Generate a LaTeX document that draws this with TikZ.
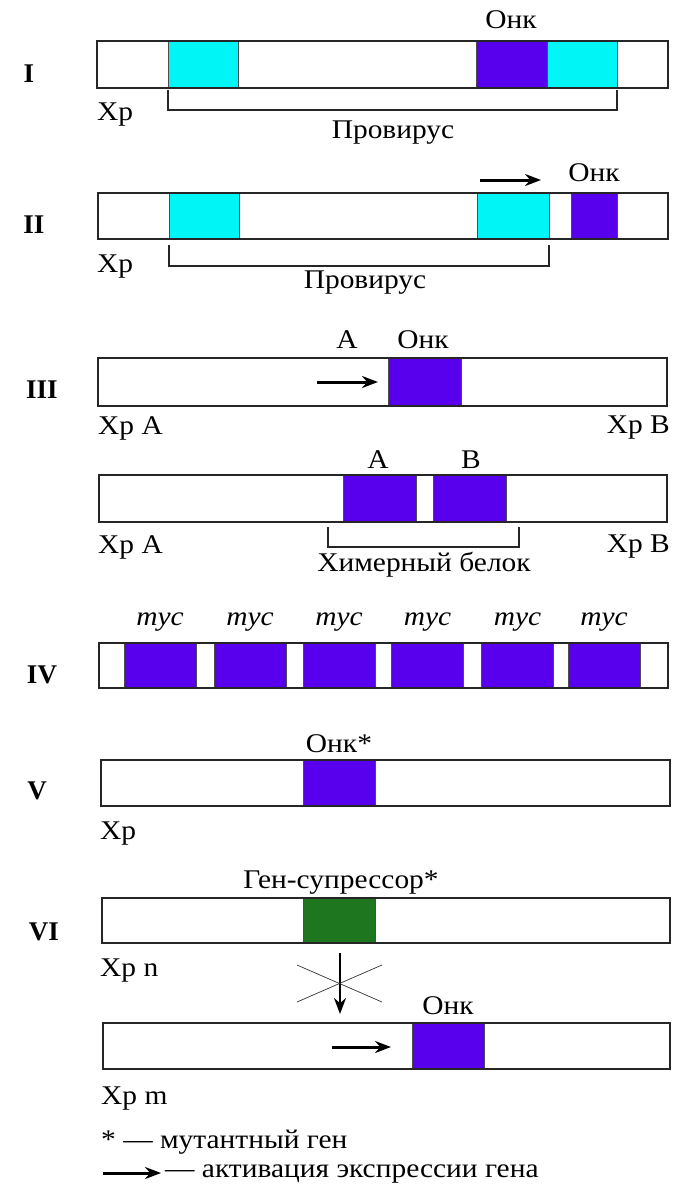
\documentclass[tikz,border=0pt]{standalone}
\usepackage{fontspec}
\setmainfont{Liberation Serif}
\newfontfamily\lblfont{Liberation Serif}[FakeStretch=1.09]
\usetikzlibrary{arrows.meta}
\definecolor{onk}{RGB}{88,0,238}
\definecolor{cyn}{RGB}{0,246,246}
\definecolor{grn}{RGB}{30,118,30}
\tikzset{
  bar/.style={draw=black!85, line width=1.4pt, rectangle, inner sep=0pt, outer sep=0pt},
  blk/.style={draw=black!70, line width=0.5pt, rectangle, inner sep=0pt, outer sep=0pt},
  lbl/.style={inner sep=0pt, font=\lblfont\fontsize{27}{30}\selectfont},
  num/.style={inner sep=0pt, font=\fontsize{27}{30}\selectfont\bfseries},
  act/.style={line width=3pt, -{Stealth[length=16pt,width=12pt]}},
  brk/.style={line width=1.4pt, draw=black!85},
  crs/.style={line width=0.7pt, draw=black!80}
}
\begin{document}
\begin{tikzpicture}[x=1pt,y=-1pt]
\useasboundingbox[fill=white] (0,0) rectangle (672,1186);

% ---------- I ----------
\node[bar, minimum width=571pt, minimum height=47pt] (b1) at (382.5,64.5) {};
\node[blk, fill=cyn, minimum width=70pt, minimum height=47pt] (c1a) at (203,64.5) {};
\node[blk, fill=onk, minimum width=71pt, minimum height=47pt] (o1) at (511.5,64.5) {};
\node[blk, fill=cyn, minimum width=70pt, minimum height=47pt] (c1b) at (582,64.5) {};
\node[bar, minimum width=571pt, minimum height=47pt] (b1top) at (382.5,64.5) {};
\node[num] (n1) at (29,74) {I};
\node[lbl] (t1) at (511,20) {Онк};
\node[lbl, anchor=west] (x1) at (97,115) {Хр};
\draw[brk] (c1a.south west |- 0,90) -- (c1a.south west |- 0,110) -- (c1b.south east |- 0,110) -- (c1b.south east |- 0,90);
\node[lbl] (p1) at (393,133) {Провирус};

% ---------- II ----------
\node[bar, minimum width=570pt, minimum height=46pt] (b2) at (383,216) {};
\node[blk, fill=cyn, minimum width=70pt, minimum height=46pt] (c2a) at (204,216) {};
\node[blk, fill=cyn, minimum width=72pt, minimum height=46pt] (c2b) at (513,216) {};
\node[blk, fill=onk, minimum width=46pt, minimum height=46pt] (o2) at (594,216) {};
\node[bar, minimum width=570pt, minimum height=46pt] (b2top) at (383,216) {};
\node[num] (n2) at (34,225) {II};
\coordinate (a2s) at (480,180);
\coordinate (a2e) at (541,180);
\draw[act] (a2s) -- (a2e);
\node[lbl] (t2) at (594,173) {Онк};
\node[lbl, anchor=west] (x2) at (97,267) {Хр};
\draw[brk] (c2a.south west |- 0,245) -- (c2a.south west |- 0,266) -- (c2b.south east |- 0,266) -- (c2b.south east |- 0,245);
\node[lbl] (p2) at (365,283) {Провирус};

% ---------- III ----------
\node[bar, minimum width=569pt, minimum height=48pt] (b3) at (382.5,382) {};
\node[blk, fill=onk, minimum width=73pt, minimum height=48pt] (o3) at (424.5,382) {};
\node[bar, minimum width=569pt, minimum height=48pt] (b3top) at (382.5,382) {};
\node[num] (n3) at (42,390) {III};
\coordinate (a3s) at (317,382);
\coordinate (a3e) at (378,382);
\draw[act] (a3s) -- (a3e);
\node[lbl] (ta3) at (347,340) {A};
\node[lbl] (t3) at (423,340) {Онк};
\node[lbl, anchor=west] (x3a) at (98,428) {Хр A};
\node[lbl, anchor=east] (x3b) at (670,428) {Хр B};

\node[bar, minimum width=568pt, minimum height=47pt] (b3b) at (383,498.5) {};
\node[blk, fill=onk, minimum width=73pt, minimum height=47pt] (oa) at (379.5,498.5) {};
\node[blk, fill=onk, minimum width=73pt, minimum height=47pt] (ob) at (469.5,498.5) {};
\node[bar, minimum width=568pt, minimum height=47pt] (b3btop) at (383,498.5) {};
\node[lbl] (tA) at (378,460) {A};
\node[lbl] (tB) at (471,460) {B};
\draw[brk] (328,527) -- (328,547) -- (519,547) -- (519,527);
\node[lbl] (chim) at (424,565) {Химерный белок};
\node[lbl, anchor=west] (x3c) at (98,547) {Хр A};
\node[lbl, anchor=east] (x3d) at (670,547) {Хр B};

% ---------- IV ----------
\node[bar, minimum width=569pt, minimum height=45pt] (b4) at (383.5,665.5) {};
\foreach \cx [count=\i] in {160,250,339,427.5,517.5,604} {
  \node[blk, fill=onk, minimum width=72pt, minimum height=45pt] (m\i) at (\cx,665.5) {};
  \node[lbl, font=\lblfont\fontsize{27}{30}\selectfont\itshape] (tm\i) at (\cx,622) {myc};
}
\node[bar, minimum width=569pt, minimum height=45pt] (b4top) at (383.5,665.5) {};
\node[num] (n4) at (42,675) {IV};

% ---------- V ----------
\node[bar, minimum width=569pt, minimum height=46pt] (b5) at (385.5,783) {};
\node[blk, fill=onk, minimum width=72pt, minimum height=46pt] (o5) at (339,783) {};
\node[bar, minimum width=569pt, minimum height=46pt] (b5top) at (385.5,783) {};
\node[num] (n5) at (37,791) {V};
\node[lbl] (t5) at (339,744) {Онк*};
\node[lbl, anchor=west] (x5) at (100,834) {Хр};

% ---------- VI ----------
\node[bar, minimum width=568pt, minimum height=45pt] (b6) at (386,920.5) {};
\node[blk, fill=grn, minimum width=72pt, minimum height=45pt] (g6) at (339,920.5) {};
\node[bar, minimum width=568pt, minimum height=45pt] (b6top) at (386,920.5) {};
\node[num] (n6) at (44,932) {VI};
\node[lbl] (t6) at (341,883) {Ген-супрессор*};
\node[lbl, anchor=west] (x6n) at (100,971) {Хр n};
\coordinate (d6s) at (340,953);
\coordinate (d6e) at (340,1014);
\draw[act, line width=2.4pt] (d6s) -- (d6e);
\coordinate (xa) at (297,965);
\coordinate (xb) at (382,1002);
\coordinate (xc) at (297,1002);
\coordinate (xd) at (382,965);
\draw[crs] (xa) -- (xb);
\draw[crs] (xc) -- (xd);

\node[bar, minimum width=567pt, minimum height=46pt] (b7) at (386.5,1046) {};
\node[blk, fill=onk, minimum width=72pt, minimum height=46pt] (o7) at (448,1046) {};
\node[bar, minimum width=567pt, minimum height=46pt] (b7top) at (386.5,1046) {};
\coordinate (a7s) at (332,1047);
\coordinate (a7e) at (391,1047);
\draw[act] (a7s) -- (a7e);
\node[lbl] (t7) at (448,1006) {Онк};
\node[lbl, anchor=west] (x7m) at (101,1099) {Хр m};

% ---------- legend ----------
\node[lbl, anchor=west] (lg1) at (101,1142) {* — мутантный ген};
\coordinate (lgs) at (103,1173);
\coordinate (lge) at (161,1173);
\draw[act] (lgs) -- (lge);
\node[lbl, anchor=west] (lg2) at (165,1174) {— активация экспрессии гена};
\end{tikzpicture}
\end{document}
